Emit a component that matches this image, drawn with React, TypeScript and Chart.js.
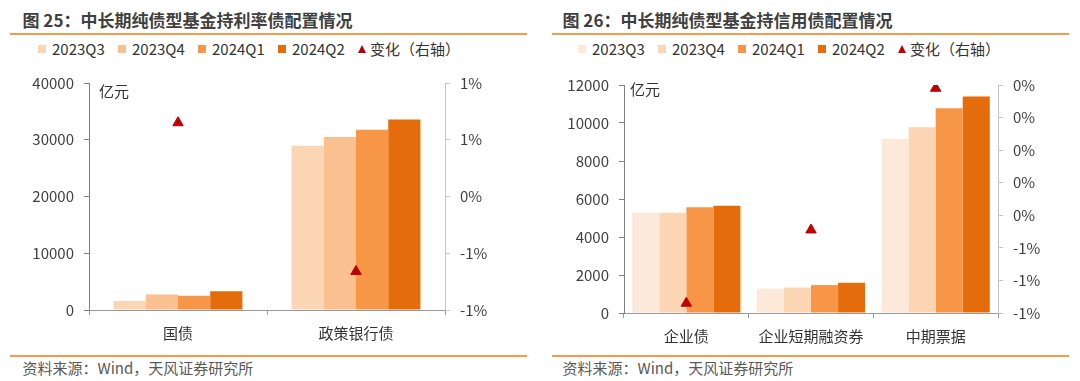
import React, { useEffect, useRef } from "react";
import { Chart, registerables } from "chart.js";

Chart.register(...registerables);

// ---------- data ----------
const seriesLabels = ["2023Q3", "2023Q4", "2024Q1", "2024Q2"];
const changeLabel = "变化（右轴）";
const unitLabel = "亿元";
const sourceText = "资料来源：Wind，天风证券研究所";

// 图 25 利率债
const rateTitle = "图 25：中长期纯债型基金持利率债配置情况";
const rateCategories = ["国债", "政策银行债"];
const rate2023Q3 = [1600, 28940];
const rate2023Q4 = [2750, 30470];
const rate2024Q1 = [2520, 31760];
const rate2024Q2 = [3300, 33590];
const rateChange = [0.65, -0.66];
const rateLeftAxis = [0, 40000, 10000];
const rateRightAxis = [-1, 1, 0.5];

// 图 26 信用债
const creditTitle = "图 26：中长期纯债型基金持信用债配置情况";
const creditCategories = ["企业债", "企业短期融资券", "中期票据"];
const credit2023Q3 = [5270, 1280, 9160];
const credit2023Q4 = [5270, 1340, 9780];
const credit2024Q1 = [5570, 1470, 10770];
const credit2024Q2 = [5640, 1590, 11390];
const creditChange = [-0.94, -0.49, 0.38];
const creditLeftAxis = [0, 12000, 2000];
const creditRightAxis = [-1, 0.4, 0.2];

// ---------- styles ----------
const FONT = "'Noto Sans CJK SC', 'Noto Sans', sans-serif";
const rateColors = ["#FCD5B5", "#FAC090", "#F79646", "#E46C0A"];
const creditColors = ["#FDE9D9", "#FCD5B5", "#F79646", "#E46C0A"];
const triColor = "#C00000";
const orange = "#F59B4C";

const fmtPct = (v: number) => {
  const r = Math.sign(v) * Math.round(Math.abs(v) + 1e-9);
  return (r === 0 ? 0 : r) + "%";
};

type ChartProps = {
  categories: string[];
  series: number[][];
  colors: string[];
  change: number[];
  leftAxis: number[];
  rightAxis: number[];
  catPct: number;
  padTop: number;
  leftW: number;
  rightW: number;
  xH: number;
};

function BarCombo(p: ChartProps) {
  const ref = useRef<HTMLCanvasElement | null>(null);
  useEffect(() => {
    if (!ref.current) return;
    const tickFont = { family: FONT, size: 15 };
    const chart = new Chart(ref.current, {
      type: "bar",
      data: {
        labels: p.categories,
        datasets: [
          {
            type: "line" as any,
            label: changeLabel,
            data: p.change,
            yAxisID: "y1",
            showLine: false,
            pointStyle: "triangle",
            pointRadius: 6,
            pointBackgroundColor: triColor,
            pointBorderColor: triColor,
            pointBorderWidth: 1,
            order: 0,
          } as any,
          ...p.series.map((d, i) => ({
            label: seriesLabels[i],
            data: d,
            backgroundColor: p.colors[i],
            borderWidth: 0,
            yAxisID: "y",
            order: 1,
            categoryPercentage: p.catPct,
            barPercentage: 1,
          })),
        ],
      },
      options: {
        responsive: false,
        animation: false,
        devicePixelRatio: 1,
        layout: { padding: { top: p.padTop, left: 0, right: 0, bottom: 0 } },
        plugins: { legend: { display: false }, tooltip: { enabled: false } },
        scales: {
          x: {
            grid: { offset: true, drawOnChartArea: false, drawTicks: true, tickLength: 5, color: "#9a9a9a" },
            border: { color: "#9a9a9a" },
            ticks: { font: tickFont, color: "#333333", padding: 9, maxRotation: 0, autoSkip: false },
            afterFit: (s: any) => { s.height = p.xH; },
          },
          y: {
            position: "left",
            min: p.leftAxis[0],
            max: p.leftAxis[1],
            ticks: { stepSize: p.leftAxis[2], font: tickFont, color: "#404040", padding: 10, callback: (v: any) => String(v) },
            grid: { drawOnChartArea: false, drawTicks: true, tickLength: 5, color: "#808080" },
            border: { color: "#808080" },
            afterFit: (s: any) => { s.width = p.leftW; },
          },
          y1: {
            position: "right",
            min: p.rightAxis[0],
            max: p.rightAxis[1],
            ticks: { stepSize: p.rightAxis[2], font: tickFont, color: "#404040", padding: 10, callback: (v: any) => fmtPct(Number(v)) },
            grid: { drawOnChartArea: false, drawTicks: true, tickLength: 5, color: "#c4c4c4" },
            border: { color: "#c4c4c4" },
            afterFit: (s: any) => { s.width = p.rightW; },
          },
        },
      } as any,
    });
    return () => chart.destroy();
  }, []);
  return <canvas ref={ref} width={540} height={290} style={{ width: 540, height: 290, display: "block" }} />;
}

function Legend({ colors, left }: { colors: string[]; left: number }) {
  return (
    <div style={{ position: "absolute", left, top: 40, height: 18, display: "flex", alignItems: "center", fontSize: 15, lineHeight: "18px", color: "#333", whiteSpace: "nowrap" }}>
      {seriesLabels.map((s, i) => (
        <div key={s} style={{ display: "flex", alignItems: "center", width: 80 }}>
          <span style={{ width: 8, height: 8, background: colors[i], marginRight: 6, display: "inline-block" }} />
          <span>{s}</span>
        </div>
      ))}
      <div style={{ display: "flex", alignItems: "center" }}>
        <span style={{ width: 0, height: 0, borderLeft: "4px solid transparent", borderRight: "4px solid transparent", borderBottom: `8px solid ${triColor}`, marginRight: 4, display: "inline-block" }} />
        <span>{changeLabel}</span>
      </div>
    </div>
  );
}

function Panel(props: { x: number; title: string; colors: string[]; unitX: number; unitY: number; lineX: number; chart: ChartProps }) {
  const { x } = props;
  return (
    <>
      <div style={{ position: "absolute", left: x + 22.5, top: 10, fontSize: 17, fontWeight: 700, lineHeight: "20px", color: "#404040", whiteSpace: "nowrap" }}>{props.title}</div>
      <div style={{ position: "absolute", left: props.lineX, top: 33, width: 517, height: 2, background: orange }} />
      <Legend colors={props.colors} left={x + 38} />
      <div style={{ position: "absolute", left: x, top: 60 }}>
        <BarCombo {...props.chart} />
      </div>
      <div style={{ position: "absolute", left: props.unitX, top: props.unitY - 9, fontSize: 15, lineHeight: "18px", color: "#333" }}>{unitLabel}</div>
      <div style={{ position: "absolute", left: props.lineX, top: 355, width: 517, height: 2, background: orange }} />
      <div style={{ position: "absolute", left: x + 22.5, top: 359, fontSize: 15, lineHeight: "18px", color: "#595959", whiteSpace: "nowrap" }}>{sourceText}</div>
    </>
  );
}

export default function App() {
  return (
    <div style={{ position: "absolute", left: 0, top: 0, width: 1080, height: 381, background: "#fff", fontFamily: FONT, overflow: "hidden" }}>
      <Panel
        x={0}
        title={rateTitle}
        colors={rateColors}
        unitX={99}
        unitY={90.5}
        lineX={9.5}
        chart={{
          categories: rateCategories,
          series: [rate2023Q3, rate2023Q4, rate2024Q1, rate2024Q2],
          colors: rateColors,
          change: rateChange,
          leftAxis: rateLeftAxis,
          rightAxis: rateRightAxis,
          catPct: 0.724,
          padTop: 23,
          leftW: 89,
          rightW: 95,
          xH: 40,
        }}
      />
      <Panel
        x={540}
        title={creditTitle}
        colors={creditColors}
        unitX={630}
        unitY={89}
        lineX={552}
        chart={{
          categories: creditCategories,
          series: [credit2023Q3, credit2023Q4, credit2024Q1, credit2024Q2],
          colors: creditColors,
          change: creditChange,
          leftAxis: creditLeftAxis,
          rightAxis: creditRightAxis,
          catPct: 0.868,
          padTop: 25,
          leftW: 84,
          rightW: 82,
          xH: 37,
        }}
      />
    </div>
  );
}
